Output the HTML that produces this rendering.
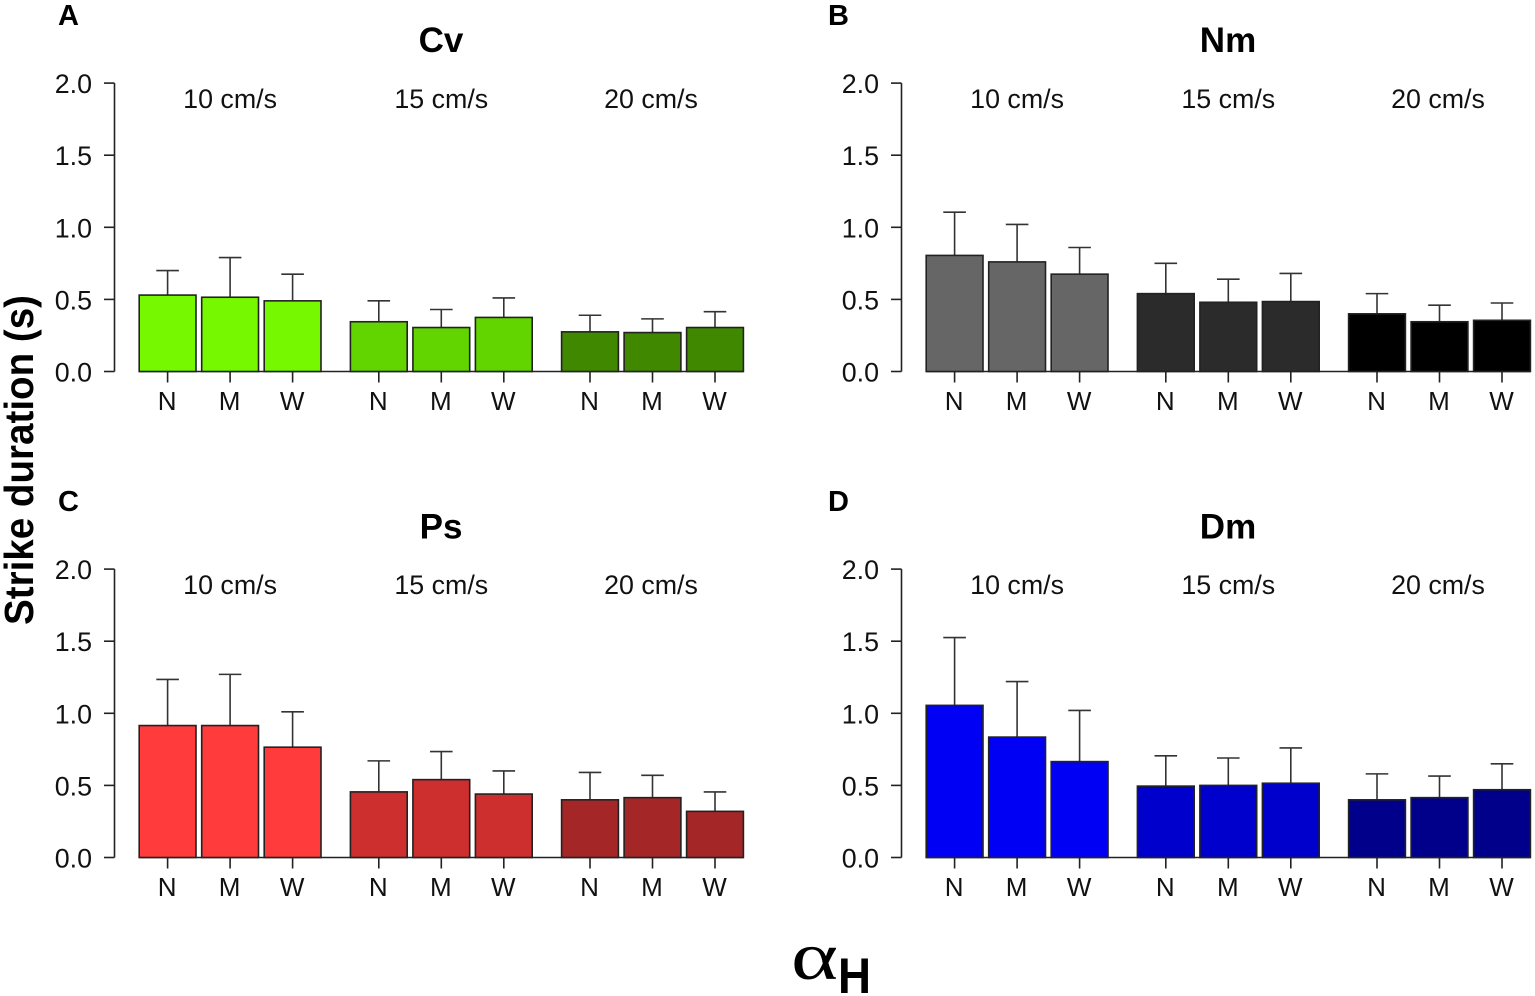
<!DOCTYPE html>
<html lang="en">
<head>
<meta charset="utf-8">
<title>Strike duration by species and flow speed</title>
<style>
html,body{margin:0;padding:0;background:#fff;width:1535px;height:996px;overflow:hidden}
svg{display:block}
text{font-family:"Liberation Sans",Arial,sans-serif;fill:#111}
</style>
</head>
<body>
<svg id="chart" xmlns="http://www.w3.org/2000/svg" width="1535" height="996" viewBox="0 0 1535 996">
<text transform="translate(33 625) rotate(-90)" font-size="41" font-weight="700" textLength="330" lengthAdjust="spacingAndGlyphs" style="fill:#000">Strike duration (s)</text>
<text transform="translate(791 979) scale(1.32 1)" font-size="68" style="font-family:'Liberation Serif','DejaVu Serif',serif;fill:#000">α</text>
<text x="838" y="993" font-size="50" font-weight="700" textLength="33" lengthAdjust="spacingAndGlyphs" style="fill:#000">H</text>
</svg>
<script>
const panelNames = ['Cv', 'Nm', 'Ps', 'Dm'];
const panelLetters = ['A', 'B', 'C', 'D'];
const speedLabels = ['10 cm/s', '15 cm/s', '20 cm/s'];
const widthLabels = ['N', 'M', 'W'];
const yTicks = [0, 0.5, 1, 1.5, 2];

const meansCv = [0.53, 0.515, 0.49, 0.345, 0.305, 0.375, 0.275, 0.27, 0.305];
const meansNm = [0.805, 0.76, 0.675, 0.54, 0.48, 0.485, 0.40, 0.345, 0.355];
const meansPs = [0.915, 0.915, 0.765, 0.455, 0.54, 0.44, 0.40, 0.415, 0.32];
const meansDm = [1.055, 0.835, 0.665, 0.495, 0.50, 0.515, 0.40, 0.415, 0.47];

const upperCv = [0.70, 0.79, 0.675, 0.49, 0.43, 0.51, 0.39, 0.365, 0.415];
const upperNm = [1.105, 1.02, 0.86, 0.75, 0.64, 0.68, 0.54, 0.46, 0.475];
const upperPs = [1.235, 1.27, 1.01, 0.67, 0.735, 0.60, 0.59, 0.57, 0.455];
const upperDm = [1.525, 1.22, 1.02, 0.705, 0.69, 0.76, 0.58, 0.565, 0.65];

const allMeans = [meansCv, meansNm, meansPs, meansDm];
const allUpper = [upperCv, upperNm, upperPs, upperDm];
const colorsByPanel = [
  ['#76f900', '#62d400', '#408800'],
  ['#666666', '#2b2b2b', '#000000'],
  ['#ff3b3b', '#cd2e2e', '#a52626'],
  ['#0000f5', '#0000cd', '#00008b']
];

const NS = 'http://www.w3.org/2000/svg';
const svg = document.getElementById('chart');
const AXIS = '#222';
const LINE_W = 1.6;

function node(tag, attrs, text, parent) {
  const n = document.createElementNS(NS, tag);
  for (const k in attrs) n.setAttribute(k, attrs[k]);
  if (text !== undefined) n.textContent = text;
  (parent || svg).appendChild(n);
  return n;
}

function panelDX(p) { return p % 2 ? 787 : 0; }
function panelBase(p) { return p < 2 ? 371.5 : 857.5; }
function yScale(p, v) { return panelBase(p) - v * 144.2; }
function barLeft(p, i) {
  const group = Math.floor(i / 3);
  const inner = i % 3;
  return panelDX(p) + 139.2 + group * 211.2 + inner * 62.5;
}
const BAR_W = 56.8;

panelNames.forEach(function (name, p) {
  const dx = panelDX(p);
  const base = panelBase(p);
  const top = yScale(p, 2);
  const g = node('g', {});
  
  

  const letterX = p % 2 ? 828 : 58;
  const letter = node('text', { x: letterX, y: top - 58, 'font-size': 29, 'font-weight': 700, style: 'fill:#000' }, panelLetters[p], g);
  
  

  const title = node('text', { x: dx + 441, y: top - 31 + (p < 2 ? 0 : 0.5), 'font-size': 35, 'font-weight': 700, 'text-anchor': 'middle', style: 'fill:#000' }, name, g);
  
  

  const yAxis = node('line', { x1: dx + 114.5, x2: dx + 114.5, y1: top, y2: base, stroke: AXIS, 'stroke-width': LINE_W }, undefined, g);
  
  

  yTicks.forEach(function (t) {
    const y = yScale(p, t);
    const tick = node('line', { x1: dx + 104, x2: dx + 114.5, y1: y, y2: y, stroke: AXIS, 'stroke-width': LINE_W }, undefined, g);
    
    
    const lab = node('text', { x: dx + 92, y: y + 10, 'font-size': 26.8, 'text-anchor': 'end' }, t.toFixed(1), g);
    
    
  });

  const baseline = node('line', { x1: barLeft(p, 0), x2: barLeft(p, 8) + BAR_W, y1: base, y2: base, stroke: AXIS, 'stroke-width': LINE_W }, undefined, g);
  
  

  speedLabels.forEach(function (s, k) {
    const cx = barLeft(p, k * 3 + 1) + BAR_W / 2 - (k === 2 ? 1.5 : 0);
    const sp = node('text', { x: cx, y: top + 25, 'font-size': 26.8, 'text-anchor': 'middle' }, s, g);
    
    
  });

  allMeans[p].forEach(function (v, i) {
    const x = barLeft(p, i);
    const cx = x + BAR_W / 2;
    const yv = yScale(p, v);
    const yu = yScale(p, allUpper[p][i]);
    const color = colorsByPanel[p][Math.floor(i / 3)];

    const stem = node('line', { x1: cx, x2: cx, y1: yu, y2: yv, stroke: '#333', 'stroke-width': LINE_W }, undefined, g);
    
    
    const cap = node('line', { x1: cx - 11.3, x2: cx + 11.3, y1: yu, y2: yu, stroke: '#333', 'stroke-width': LINE_W }, undefined, g);
    
    

    const bar = node('rect', { x: x, y: yv, width: BAR_W, height: base - yv, fill: color, stroke: '#222', 'stroke-width': LINE_W }, undefined, g);
    
    

    const xt = node('line', { x1: cx, x2: cx, y1: base, y2: base + 11, stroke: AXIS, 'stroke-width': LINE_W }, undefined, g);
    
    

    const xl = node('text', { x: cx - 0.5, y: base + 38.5, 'font-size': 26, 'text-anchor': 'middle' }, widthLabels[i % 3], g);
    
    
  });
});
</script>
</body>
</html>
